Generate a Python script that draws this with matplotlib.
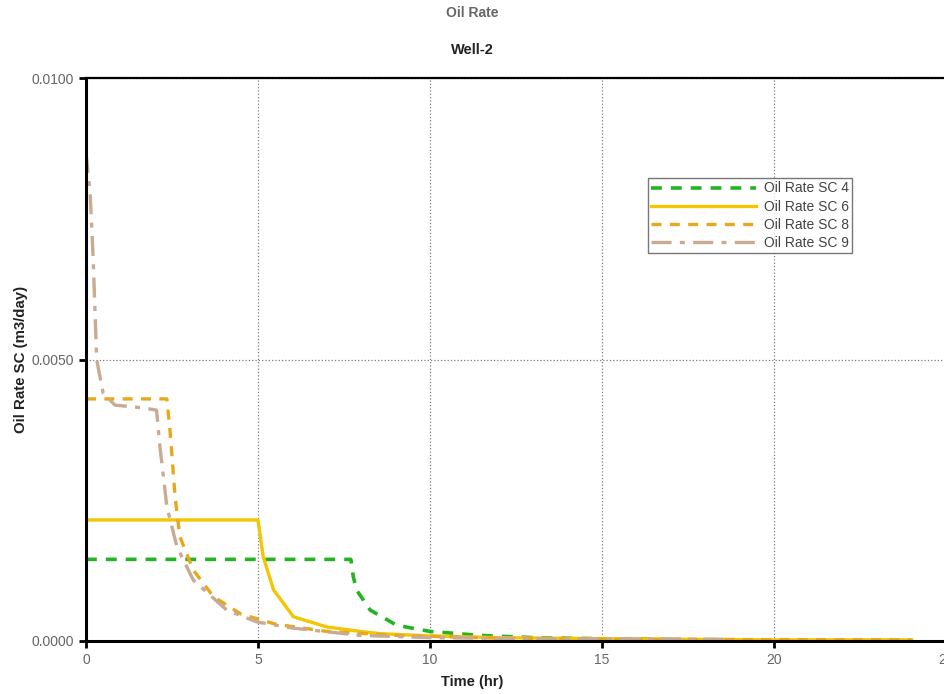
import matplotlib
matplotlib.use("Agg")
import matplotlib.pyplot as plt

plt.rcParams['font.family'] = ['Liberation Sans', 'DejaVu Sans']

# Oil Rate SC 4
t4 = [0, 7.7, 7.77, 7.87, 8.26, 9.03, 10.0, 11.45, 13.0, 15.0, 17.0]
q4 = [0.00145, 0.00145, 0.00114, 0.0009, 0.00055, 0.00028, 0.00017, 0.0001, 0.00006, 0.00004, 0.00003]

# Oil Rate SC 6
t6 = [0, 5.0, 5.15, 5.45, 6.03, 7.0, 7.97, 8.55, 10.0, 12.0, 15.0, 20.0, 24.0]
q6 = [0.00215, 0.00215, 0.0015, 0.00091, 0.00043, 0.00025, 0.00017, 0.00013, 0.00009, 0.00006, 0.00004, 0.00002, 0.00002]

# Oil Rate SC 8
t8 = [0, 2.35, 2.44, 2.59, 2.73, 3.12, 3.70, 4.5, 5.5, 7.0, 9.0, 12.0, 16.0, 24.0]
q8 = [0.0043, 0.0043, 0.00375, 0.00256, 0.00185, 0.00126, 0.00079, 0.00048, 0.0003, 0.00017, 0.0001, 0.00005, 0.00003, 0.00002]

# Oil Rate SC 9
t9 = [0, 0.12, 0.21, 0.31, 0.5, 0.84, 1.67, 2.05, 2.15, 2.35, 2.64, 3.12, 4.09, 4.96, 6.0, 7.97, 10.0, 13.0, 18.7]
q9 = [0.00867, 0.00796, 0.00677, 0.005, 0.0044, 0.00419, 0.00414, 0.0041, 0.00345, 0.00239, 0.00168, 0.00108, 0.00055, 0.00034, 0.00023, 0.0001, 0.00006, 0.00004, 0.00003]

xticks = [0, 5, 10, 15, 20, 25]
yticks = [0.0, 0.005, 0.01]
ytick_labels = ["0.0000", "0.0050", "0.0100"]

fig = plt.figure(figsize=(9.45, 6.94), dpi=100)
ax = fig.add_axes([86/945, 53/694, 860/945, 563/694])

ax.plot(t4, q4, color='#22b422', lw=2.6, ls=(0, (3, 2.5)), label='Oil Rate SC 4')
ax.plot(t6, q6, color='#f2c600', lw=2.4, ls='-', label='Oil Rate SC 6')
ax.plot(t8, q8, color='#e8a81c', lw=2.4, ls=(0, (3, 2.5)), label='Oil Rate SC 8')
ax.plot(t9, q9, color='#c9ab92', lw=2.4, ls=(0, (6, 2.5, 1.5, 2.5)), label='Oil Rate SC 9')

ax.set_xlim(0, 25)
ax.set_ylim(0, 0.01)
ax.set_xticks(xticks)
ax.set_yticks(yticks)
ax.set_yticklabels(ytick_labels)
ax.tick_params(labelsize=10, labelcolor='#666666', length=5, width=2, color='black', pad=3.5)
ax.grid(True, ls=':', color='#7a7a8a', lw=0.9)

for side in ['left', 'bottom']:
    ax.spines[side].set_linewidth(2.2)
ax.spines['top'].set_linewidth(1.6)
ax.spines['right'].set_visible(False)

# axis titles are centred on the figure, not on the axes
ax.set_xlabel('Time (hr)', fontsize=10.5, fontweight='bold', color='#222222')
ax.xaxis.set_label_coords((472.5 - 86) / 860, -(675 - 641) / 563)
ax.set_ylabel('Oil Rate SC (m3/day)', fontsize=10.8, fontweight='bold', color='#222222')
ax.yaxis.set_label_coords(-(86 - 28) / 860, 0.5)

fig.text(472.5/945, 1 - 13/694, 'Oil Rate', ha='center', va='center', fontsize=10,
         fontweight='bold', color='#666666')
fig.text(472.5/945, 1 - 50/694, 'Well-2', ha='center', va='center', fontsize=10.5,
         fontweight='bold', color='#222222')

leg = ax.legend(loc='upper left', bbox_to_anchor=((648 - 86) / 860, (641 - 178) / 563),
                borderaxespad=0, fontsize=10, frameon=True, fancybox=False,
                handlelength=7.5, handletextpad=0.6, borderpad=0.25,
                labelspacing=0.3, edgecolor='#555555')
leg.get_frame().set_linewidth(1.0)
for txt in leg.get_texts():
    txt.set_color('#444444')

fig.savefig('out.png', dpi=100)
